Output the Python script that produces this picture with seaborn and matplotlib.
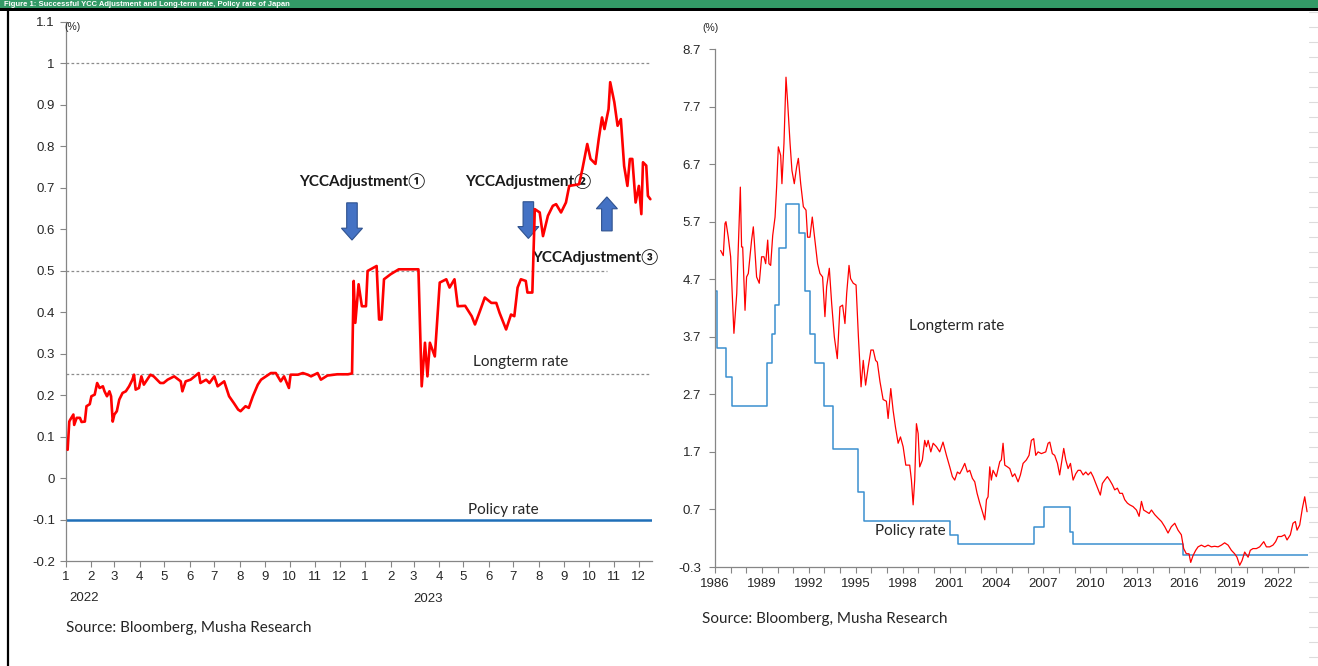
import numpy as np
import pandas as pd
import matplotlib
matplotlib.use("Agg")
import matplotlib.pyplot as plt
import seaborn as sns
from matplotlib.patches import FancyArrow, Rectangle
from matplotlib.lines import Line2D

# ---------------- Left panel data (10y JGB yield, 2022-2023, %) ----------------
ltr_dates = [
    "2022-01-03", "2022-01-05", "2022-01-06", "2022-01-10", "2022-01-11", "2022-01-14",
    "2022-01-18", "2022-01-20", "2022-01-24", "2022-01-26", "2022-01-30", "2022-02-01",
    "2022-02-05", "2022-02-08", "2022-02-11", "2022-02-15", "2022-02-17", "2022-02-20",
    "2022-02-23", "2022-02-25", "2022-02-27", "2022-03-01", "2022-03-04", "2022-03-07",
    "2022-03-11", "2022-03-15", "2022-03-19", "2022-03-23", "2022-03-25", "2022-03-27",
    "2022-03-31", "2022-04-03", "2022-04-06", "2022-04-10", "2022-04-14", "2022-04-18",
    "2022-04-26", "2022-04-30", "2022-05-05", "2022-05-13", "2022-05-21", "2022-05-23",
    "2022-05-27", "2022-06-02", "2022-06-12", "2022-06-14", "2022-06-21", "2022-06-25",
    "2022-07-01", "2022-07-05", "2022-07-13", "2022-07-19", "2022-07-25", "2022-07-30",
    "2022-08-02", "2022-08-08", "2022-08-12", "2022-08-17", "2022-08-23", "2022-08-27",
    "2022-09-02", "2022-09-08", "2022-09-14", "2022-09-20", "2022-09-24", "2022-09-30",
    "2022-10-02", "2022-10-11", "2022-10-17", "2022-10-23", "2022-10-27", "2022-11-04",
    "2022-11-08", "2022-11-16", "2022-11-28", "2022-12-11", "2022-12-16", "2022-12-18",
    "2022-12-20", "2022-12-24", "2022-12-28", "2023-01-02", "2023-01-04", "2023-01-15",
    "2023-01-18", "2023-01-21", "2023-01-24", "2023-02-01", "2023-02-11", "2023-03-07",
    "2023-03-11", "2023-03-15", "2023-03-18", "2023-03-21", "2023-03-27", "2023-04-02",
    "2023-04-10", "2023-04-14", "2023-04-20", "2023-04-24", "2023-05-03", "2023-05-11",
    "2023-05-15", "2023-05-21", "2023-05-27", "2023-06-04", "2023-06-10", "2023-06-14",
    "2023-06-22", "2023-06-28", "2023-07-02", "2023-07-06", "2023-07-10", "2023-07-16",
    "2023-07-18", "2023-07-24", "2023-07-27", "2023-08-02", "2023-08-06", "2023-08-12",
    "2023-08-18", "2023-08-22", "2023-08-28", "2023-09-03", "2023-09-07", "2023-09-19",
    "2023-09-23", "2023-09-29", "2023-10-03", "2023-10-09", "2023-10-13", "2023-10-17",
    "2023-10-20", "2023-10-25", "2023-10-27", "2023-11-01", "2023-11-05", "2023-11-09",
    "2023-11-13", "2023-11-17", "2023-11-20", "2023-11-23", "2023-11-27", "2023-12-01",
    "2023-12-04", "2023-12-06", "2023-12-10", "2023-12-12", "2023-12-15",
]
ltr_values = [
    0.068, 0.136, 0.140, 0.153, 0.128, 0.145,
    0.145, 0.135, 0.136, 0.173, 0.178, 0.197,
    0.201, 0.229, 0.217, 0.221, 0.209, 0.197,
    0.209, 0.197, 0.136, 0.153, 0.161, 0.189,
    0.205, 0.209, 0.221, 0.237, 0.249, 0.213,
    0.217, 0.245, 0.225, 0.237, 0.249, 0.245,
    0.229, 0.229, 0.237, 0.245, 0.233, 0.209,
    0.233, 0.237, 0.253, 0.229, 0.237, 0.229,
    0.245, 0.221, 0.233, 0.197, 0.180, 0.165,
    0.161, 0.173, 0.169, 0.197, 0.225, 0.237,
    0.245, 0.253, 0.253, 0.233, 0.245, 0.217,
    0.249, 0.249, 0.253, 0.249, 0.245, 0.253,
    0.237, 0.247, 0.250, 0.250, 0.252, 0.475,
    0.374, 0.467, 0.414, 0.414, 0.499, 0.511,
    0.382, 0.382, 0.479, 0.491, 0.503, 0.503,
    0.221, 0.326, 0.245, 0.326, 0.293, 0.471,
    0.479, 0.459, 0.479, 0.414, 0.415, 0.390,
    0.370, 0.402, 0.435, 0.422, 0.422, 0.398,
    0.358, 0.394, 0.390, 0.459, 0.479, 0.475,
    0.447, 0.447, 0.648, 0.640, 0.583, 0.632,
    0.656, 0.660, 0.640, 0.664, 0.704, 0.708,
    0.744, 0.805, 0.769, 0.757, 0.817, 0.869,
    0.841, 0.889, 0.954, 0.906, 0.849, 0.865,
    0.752, 0.704, 0.769, 0.769, 0.664, 0.704,
    0.636, 0.761, 0.753, 0.680, 0.672,
]
policy_left_dates = ["2022-01-01", "2023-12-17"]
policy_left_values = [-0.1, -0.1]

# dashed reference levels (YCC band limits)
ref_levels = [1.0, 0.5, 0.25]
ref_start = "2022-01-01"
ref_ends = ["2023-12-15", "2023-10-23", "2023-12-15"]

month_labels = [str(m) for m in range(1, 13)] * 2
left_yticks = [-0.2, -0.1, 0.0, 0.1, 0.2, 0.3, 0.4, 0.5, 0.6, 0.7, 0.8, 0.9, 1.0, 1.1]
left_ylabels = ["-0.2", "-0.1", "0", "0.1", "0.2", "0.3", "0.4", "0.5", "0.6", "0.7",
                "0.8", "0.9", "1", "1.1"]

# ---------------- Right panel data (1986-2023, decimal year, %) ----------------
lt_years = [
    1986.36, 1986.53, 1986.64, 1986.70, 1986.85, 1987.00, 1987.21, 1987.39, 1987.49, 1987.62,
    1987.70, 1987.77, 1987.92, 1988.02, 1988.13, 1988.34, 1988.45, 1988.51, 1988.66, 1988.83,
    1988.98, 1989.13, 1989.24, 1989.37, 1989.45, 1989.56, 1989.69, 1989.84, 1989.94, 1990.05,
    1990.20, 1990.28, 1990.41, 1990.54, 1990.65, 1990.80, 1990.92, 1991.07, 1991.22, 1991.33,
    1991.48, 1991.65, 1991.82, 1991.92, 1992.07, 1992.22, 1992.39, 1992.56, 1992.71, 1992.88,
    1993.03, 1993.14, 1993.31, 1993.46, 1993.63, 1993.82, 1993.99, 1994.16, 1994.31, 1994.42,
    1994.57, 1994.67, 1994.84, 1995.02, 1995.17, 1995.34, 1995.48, 1995.63, 1995.80, 1995.97,
    1996.12, 1996.27, 1996.38, 1996.55, 1996.75, 1996.96, 1997.07, 1997.24, 1997.39, 1997.54,
    1997.71, 1997.86, 1998.03, 1998.20, 1998.45, 1998.56, 1998.67, 1998.77, 1998.88, 1998.99,
    1999.09, 1999.26, 1999.41, 1999.52, 1999.63, 1999.80, 1999.95, 2000.16, 2000.37, 2000.58,
    2000.80, 2001.01, 2001.18, 2001.33, 2001.50, 2001.65, 2001.82, 2001.97, 2002.14, 2002.29,
    2002.46, 2002.61, 2002.76, 2002.93, 2003.10, 2003.25, 2003.36, 2003.46, 2003.57, 2003.67,
    2003.78, 2003.99, 2004.21, 2004.31, 2004.42, 2004.53, 2004.70, 2004.85, 2005.02, 2005.17,
    2005.38, 2005.53, 2005.70, 2005.91, 2006.08, 2006.23, 2006.38, 2006.51, 2006.66, 2006.87,
    2007.15, 2007.30, 2007.41, 2007.57, 2007.72, 2007.90, 2008.04, 2008.19, 2008.30, 2008.43,
    2008.58, 2008.73, 2008.90, 2009.07, 2009.22, 2009.37, 2009.54, 2009.71, 2009.86, 2010.03,
    2010.18, 2010.35, 2010.50, 2010.64, 2010.77, 2010.92, 2011.09, 2011.24, 2011.41, 2011.56,
    2011.73, 2011.88, 2012.05, 2012.20, 2012.37, 2012.52, 2012.73, 2012.95, 2013.12, 2013.27,
    2013.41, 2013.59, 2013.76, 2013.91, 2014.12, 2014.33, 2014.55, 2014.76, 2014.97, 2015.18,
    2015.40, 2015.61, 2015.82, 2015.97, 2016.14, 2016.31, 2016.42, 2016.57, 2016.74, 2016.89,
    2017.10, 2017.32, 2017.53, 2017.74, 2017.95, 2018.17, 2018.38, 2018.59, 2018.81, 2019.02,
    2019.23, 2019.38, 2019.55, 2019.70, 2019.87, 2020.09, 2020.23, 2020.40, 2020.62, 2020.83,
    2021.09, 2021.26, 2021.47, 2021.68, 2021.85, 2022.00, 2022.22, 2022.43, 2022.58, 2022.79,
    2022.96, 2023.11, 2023.22, 2023.39, 2023.56, 2023.71, 2023.86,
]
lt_values = [
    5.20, 5.11, 5.67, 5.70, 5.43, 5.09, 3.76, 4.45, 5.26, 6.30,
    5.26, 5.26, 4.16, 4.74, 4.80, 5.38, 5.61, 5.38, 4.74, 4.63,
    5.09, 5.09, 4.97, 5.38, 4.97, 4.94, 5.46, 5.78, 6.30, 7.00,
    6.85, 6.36, 7.06, 8.21, 7.75, 7.06, 6.59, 6.36, 6.65, 6.80,
    6.36, 5.96, 5.90, 5.43, 5.43, 5.78, 5.38, 4.97, 4.80, 4.74,
    4.05, 4.57, 4.89, 4.28, 3.70, 3.32, 4.22, 4.25, 3.93, 4.45,
    4.94, 4.71, 4.63, 4.60, 3.70, 2.83, 3.29, 2.86, 3.18, 3.47,
    3.47, 3.29, 3.26, 2.92, 2.61, 2.58, 2.28, 2.80, 2.42, 2.13,
    1.85, 1.96, 1.79, 1.47, 1.47, 1.21, 0.78, 1.21, 2.19, 2.02,
    1.44, 1.56, 1.90, 1.79, 1.90, 1.70, 1.85, 1.79, 1.70, 1.87,
    1.64, 1.44, 1.27, 1.21, 1.35, 1.32, 1.41, 1.50, 1.35, 1.38,
    1.24, 1.18, 0.98, 0.81, 0.66, 0.52, 0.87, 0.92, 1.44, 1.21,
    1.38, 1.27, 1.53, 1.56, 1.85, 1.47, 1.44, 1.41, 1.27, 1.32,
    1.18, 1.30, 1.50, 1.56, 1.64, 1.90, 1.93, 1.64, 1.70, 1.67,
    1.70, 1.85, 1.87, 1.67, 1.64, 1.50, 1.30, 1.56, 1.76, 1.56,
    1.41, 1.50, 1.21, 1.32, 1.38, 1.38, 1.30, 1.35, 1.30, 1.35,
    1.27, 1.15, 1.04, 0.95, 1.15, 1.21, 1.27, 1.21, 1.13, 1.04,
    1.07, 0.98, 0.98, 0.87, 0.81, 0.78, 0.75, 0.69, 0.58, 0.84,
    0.69, 0.66, 0.63, 0.69, 0.61, 0.55, 0.49, 0.40, 0.29, 0.40,
    0.46, 0.34, 0.26, 0.02, -0.07, -0.07, -0.22, -0.10, -0.01, 0.05,
    0.08, 0.05, 0.08, 0.05, 0.06, 0.05, 0.08, 0.12, 0.08, -0.01,
    -0.07, -0.13, -0.27, -0.19, -0.04, -0.13, -0.01, 0.02, 0.02, 0.05,
    0.14, 0.05, 0.05, 0.08, 0.14, 0.23, 0.23, 0.26, 0.17, 0.26,
    0.46, 0.49, 0.34, 0.43, 0.72, 0.92, 0.66,
]
policy_years = [
    1986.00, 1986.10, 1986.70, 1987.08, 1989.30, 1989.62, 1989.84, 1990.11, 1990.52, 1991.37,
    1991.78, 1992.07, 1992.39, 1992.97, 1993.55, 1995.15, 1995.53, 2001.01, 2001.54, 2006.38,
    2007.04, 2008.68, 2008.90, 2015.93, 2023.92,
]
policy_values = [
    4.50, 3.50, 3.00, 2.50, 3.25, 3.75, 4.25, 5.25, 6.00, 5.50,
    4.50, 3.75, 3.25, 2.50, 1.75, 1.00, 0.50, 0.25, 0.10, 0.40,
    0.75, 0.30, 0.10, -0.10, -0.10,
]
right_yticks = [-0.3, 0.7, 1.7, 2.7, 3.7, 4.7, 5.7, 6.7, 7.7, 8.7]
year_ticks = list(range(1986, 2024))

# ---------------- Styling ----------------
sns.set_style("ticks")
plt.rcParams['font.family'] = ['Liberation Sans', 'Noto Sans CJK JP']

W, H = 1318, 666
fig = plt.figure(figsize=(W / 100, H / 100), dpi=100)
fig.patch.set_facecolor("white")

RED = "#ff0000"
BLUE_L = "#1f6fb8"
BLUE_R = "#3a8fd0"
AXC = "#868686"
TXT = "#262626"
CAL = ['Lato', 'Noto Sans CJK JP']

def px_axes(l, r, b, t):
    return fig.add_axes([l / W, 1 - b / H, (r - l) / W, (b - t) / H])

axL = px_axes(66, 652, 561, 21.6)
axR = px_axes(715, 1308, 567, 49)

for ax in (axL, axR):
    for s in ("top", "right"):
        ax.spines[s].set_visible(False)
    for s in ("left", "bottom"):
        ax.spines[s].set_color(AXC)
        ax.spines[s].set_linewidth(0.9)
    ax.tick_params(direction="out", length=4, width=0.8, color=AXC,
                   labelcolor=TXT, labelsize=9.5)
    ax.set_facecolor("white")

# ---- Left panel ----
dfL = pd.DataFrame({"date": pd.to_datetime(ltr_dates), "rate": ltr_values})
for lvl, end in zip(ref_levels, ref_ends):
    sns.lineplot(x=pd.to_datetime([ref_start, end]), y=[lvl, lvl], ax=axL,
                 color="#8c8c8c", linewidth=0.9, linestyle=(0, (2.2, 1.8)), zorder=1)
sns.lineplot(x=pd.to_datetime(policy_left_dates), y=policy_left_values, ax=axL,
             color=BLUE_L, linewidth=1.8, zorder=2)
sns.lineplot(data=dfL, x="date", y="rate", ax=axL, color=RED, linewidth=1.9,
             estimator=None, sort=False, zorder=4)

axL.set_xlim(pd.Timestamp("2022-01-01"), pd.Timestamp("2023-12-17"))
axL.set_ylim(-0.2, 1.1)
axL.set_xticks(pd.date_range("2022-01-01", "2023-12-01", freq="MS"))
axL.set_xticklabels(month_labels)
axL.set_yticks(left_yticks)
axL.set_yticklabels(left_ylabels)
axL.set_xlabel("")
axL.set_ylabel("")
axL.tick_params(axis="x", pad=3)
axL.tick_params(axis="y", pad=4)

axL.text(-0.003, 0.99, "(%)", transform=axL.transAxes, fontsize=7.5, color=TXT,
         ha="left", va="center")
bold_kw = dict(transform=axL.transAxes, fontsize=11, fontweight="bold", color="#1a1a1a",
               ha="center", va="center", family=CAL, zorder=3)
axL.text(0.505, 0.7045, "YCCAdjustment①", **bold_kw)
axL.text(0.788, 0.7045, "YCCAdjustment②", **bold_kw)
axL.text(0.903, 0.564, "YCCAdjustment③", **bold_kw)
axL.text(0.776, 0.3695, "Longterm rate", transform=axL.transAxes, fontsize=11,
         color=TXT, ha="center", va="center", family=CAL)
axL.text(0.746, 0.0945, "Policy rate", transform=axL.transAxes, fontsize=11,
         color=TXT, ha="center", va="center", family=CAL)

# block arrows (positions in axes fractions)
arrow_kw = dict(transform=axL.transAxes, length_includes_head=True,
                facecolor="#4472c4", edgecolor="#2f528f", linewidth=0.8, zorder=3)
for ax_x, y0, y1 in [(0.488, 0.664, 0.595), (0.789, 0.666, 0.598), (0.923, 0.612, 0.675)]:
    axL.add_patch(FancyArrow(ax_x, y0, 0, y1 - y0, width=0.018, head_width=0.036,
                             head_length=0.022, **arrow_kw))

fig.text(84 / W, 1 - 598 / H, "2022", fontsize=9.5, color=TXT, ha="center", va="center")
fig.text(428 / W, 1 - 599 / H, "2023", fontsize=9.5, color=TXT, ha="center", va="center")
fig.text(66 / W, 1 - 628 / H, "Source: Bloomberg, Musha Research", fontsize=11,
         color=TXT, ha="left", va="center", family=CAL)

# ---- Right panel ----
dfR = pd.DataFrame({"year": lt_years, "rate": lt_values})
dfP = pd.DataFrame({"year": policy_years, "rate": policy_values})
sns.lineplot(data=dfP, x="year", y="rate", ax=axR, color=BLUE_R, linewidth=1.1,
             drawstyle="steps-post", estimator=None, sort=False, zorder=2)
sns.lineplot(data=dfR, x="year", y="rate", ax=axR, color=RED, linewidth=0.9,
             estimator=None, sort=False, zorder=3)
axR.set_xlim(1986, 2023.92)
axR.set_ylim(-0.3, 8.7)
axR.set_xticks(year_ticks)
axR.set_xticklabels([str(y) if (y - 1986) % 3 == 0 else "" for y in year_ticks])
axR.set_yticks(right_yticks)
axR.set_yticklabels([f"{v:.1f}" for v in right_yticks])
axR.set_xlabel("")
axR.set_ylabel("")
axR.tick_params(axis="x", pad=4)
axR.tick_params(axis="y", pad=6)
axR.text(0.408, 0.465, "Longterm rate", transform=axR.transAxes, fontsize=11,
         color=TXT, ha="center", va="center", family=CAL)
axR.text(0.329, 0.0695, "Policy rate", transform=axR.transAxes, fontsize=11,
         color=TXT, ha="center", va="center", family=CAL)
fig.text(711 / W, 1 - 28 / H, "(%)", fontsize=7.5, color=TXT, ha="center", va="center")
fig.text(702 / W, 1 - 619 / H, "Source: Bloomberg, Musha Research", fontsize=11,
         color=TXT, ha="left", va="center", family=CAL)

# ---- Frame: green title band, border lines ----
fig.patches.append(Rectangle((0, 1 - 8 / H), 1, 8 / H, transform=fig.transFigure,
                             facecolor="#339966", edgecolor="none", zorder=1))
fig.patches.append(Rectangle((0, 1 - 11 / H), 1, 3 / H, transform=fig.transFigure,
                             facecolor="black", edgecolor="none", zorder=10))
fig.text(4 / W, 1 - 4.2 / H,
         "Figure 1: Successful YCC Adjustment and Long-term rate, Policy rate of Japan",
         fontsize=5.5, fontweight="bold", color="white", ha="left", va="center", zorder=5)
fig.lines.append(Line2D([8 / W, 8 / W], [0, 1 - 10 / H], transform=fig.transFigure,
                        color="black", linewidth=1.6, zorder=10))
for yy in range(12, H, 15):
    fig.lines.append(Line2D([1309 / W, 1318 / W], [1 - yy / H] * 2, transform=fig.transFigure,
                            color="#dcdcdc", linewidth=0.8))

fig.savefig("out.png", dpi=100, facecolor="white")
